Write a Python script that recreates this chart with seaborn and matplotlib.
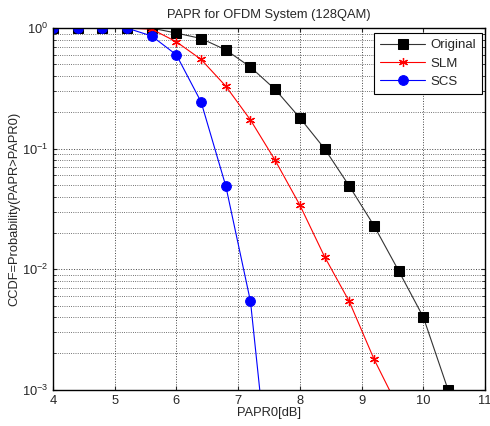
import numpy as np
import pandas as pd
import seaborn as sns
import matplotlib
from matplotlib import pyplot as plt
from matplotlib.ticker import LogLocator, NullFormatter

sns.set_style("ticks")
plt.rcParams["font.family"] = ["Liberation Sans", "DejaVu Sans"]
plt.rcParams["mathtext.fontset"] = "custom"
plt.rcParams["mathtext.rm"] = "Liberation Sans"
plt.rcParams["mathtext.it"] = "Liberation Sans"

FS = 9.3

# PAPR0 thresholds [dB]
papr0 = [4.0, 4.4, 4.8, 5.2, 5.6, 6.0, 6.4, 6.8, 7.2, 7.6, 8.0, 8.4, 8.8, 9.2, 9.6, 10.0, 10.4]

# CCDF values
ccdf_original = [1.0, 1.0, 1.0, 1.0, 1.0, 0.91, 0.82, 0.66, 0.475, 0.31, 0.18, 0.10,
                 0.049, 0.023, 0.0097, 0.0040, 0.0010]
ccdf_slm = [1.0, 1.0, 1.0, 1.0, 0.98, 0.77, 0.55, 0.33, 0.173, 0.080, 0.034, 0.0127,
            0.0054, 0.0018, 0.0007]
ccdf_scs = [1.0, 1.0, 1.0, 1.0, 0.86, 0.60, 0.244, 0.049, 0.0054, 0.00006]

fig = plt.figure(figsize=(4.9, 4.26), dpi=100)
ax = fig.add_axes([0.108, 0.085, 0.882, 0.849])

sns.lineplot(x=papr0[:len(ccdf_original)], y=ccdf_original, ax=ax, color="#333333",
             marker="s", markersize=6.5, markerfacecolor="black", markeredgecolor="black",
             linewidth=0.8, label="Original")
sns.lineplot(x=papr0[:len(ccdf_slm)], y=ccdf_slm, ax=ax, color="red",
             marker=(6, 2, 0), markersize=6.5, markeredgecolor="red", markeredgewidth=0.9,
             linewidth=0.8, label="SLM")
sns.lineplot(x=papr0[:len(ccdf_scs)], y=ccdf_scs, ax=ax, color="blue",
             marker="o", markersize=7, markerfacecolor="blue", markeredgecolor="blue",
             linewidth=0.8, label="SCS")

ax.set_yscale("log")
ax.set_xlim(4, 11)
ax.set_ylim(1e-3, 1)
ax.set_xticks(range(4, 12))
ax.yaxis.set_major_locator(LogLocator(base=10, numticks=10))
ax.yaxis.set_minor_locator(LogLocator(base=10, subs=np.arange(2, 10), numticks=20))
ax.yaxis.set_minor_formatter(NullFormatter())

ax.grid(True, which="major", color="#444444", linestyle=":", linewidth=0.7)
ax.grid(True, which="minor", axis="y", color="#444444", linestyle=":", linewidth=0.6)
ax.tick_params(which="both", direction="in", top=True, right=True, labelsize=FS, length=3)
ax.tick_params(which="minor", length=2)
for s in ax.spines.values():
    s.set_linewidth(1.0)
    s.set_color("black")

ax.set_title("PAPR for OFDM System (128QAM)", fontsize=FS, pad=7)
ax.set_xlabel("PAPR0[dB]", fontsize=FS, labelpad=0)
ax.set_ylabel("CCDF=Probability(PAPR>PAPR0)", fontsize=FS, labelpad=1)

leg = ax.legend(loc="upper right", fontsize=9.5, fancybox=False, framealpha=1,
                edgecolor="black", borderpad=0.45, handlelength=3.4, labelspacing=0.45,
                handletextpad=0.4, borderaxespad=0, bbox_to_anchor=(0.993, 0.986))
leg.get_frame().set_linewidth(0.8)

fig.savefig("out.png", dpi=100)
